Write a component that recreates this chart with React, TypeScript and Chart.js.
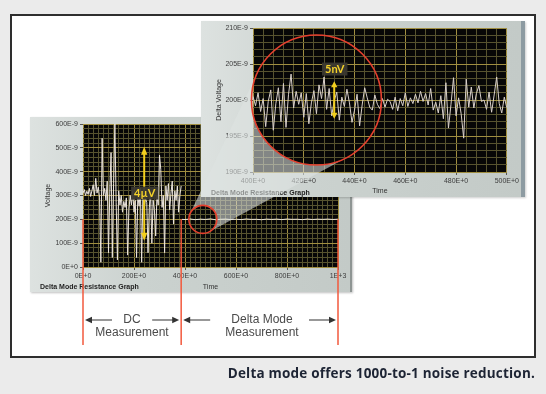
import React, { useEffect, useRef } from "react";
import { Chart, registerables } from "chart.js";
Chart.register(...registerables);

// ---------- DATA ----------
// DC measurement (overview graph), time units, voltage in E-9
const DC_TIME = [0,5,10,15,20,25,30,35,40,45,50,55,60,65,70,75,80,85,90,95,100,105,110,115,120,125,130,135,140,145,150,155,160,165,170,175,180,185,190,195,200,205,210,215,220,225,230,235,240,245,250,255,260,265,270,275,280,285,290,295,300,305,310,315,320,325,330,335,340,345,350,355,360,365,370,375,380,385];
const DC_VOLTAGE = [310,325,300,318,305,330,296,320,345,300,372,310,335,290,20,540,300,330,280,360,60,310,480,40,350,600,270,30,320,260,300,230,275,250,290,50,240,300,260,320,230,280,40,300,255,330,20,310,240,290,270,60,250,310,100,280,240,130,300,260,470,410,250,300,60,340,280,350,240,310,360,180,320,280,340,230,300,340];

// Delta mode measurement (overview graph)
const DELTA_TIME = [388,400,420,440,460,480,500,520,540,560,580,600,620,640,660,680,700,720,740,760,780,800,820,840,860,880,900,920,940,960,980,1000];
const DELTA_VOLTAGE = [200,199.1,201.4,198.6,200.8,199.5,201.9,198.2,200.3,201.1,199.0,200.6,198.9,201.5,199.7,200.2,198.4,201.0,199.6,200.9,198.8,201.3,199.9,200.4,198.7,201.2,199.3,200.7,199.8,201.0,199.4,200.5];

// Zoomed delta mode graph
const ZOOM_TIME = [400,401,402,403,404,405,406,407,408,409,410,411,412,413,414,415,416,417,418,419,420,421,422,423,424,425,426,427,428,429,430,431,432,433,434,435,436,437,438,439,440,441,442,443,444,445,446,447,448,449,450,451,452,453,454,455,456,457,458,459,460,461,462,463,464,465,466,467,468,469,470,471,472,473,474,475,476,477,478,479,480,481,482,483,484,485,486,487,488,489,490,491,492,493,494,495,496,497,498,499,500];
const ZOOM_VOLTAGE = [
  200.5,199.2,201.0,198.4,200.2,196.3,199.8,201.4,195.8,199.5,
  201.7,197.0,202.3,196.2,200.8,203.6,198.9,201.2,199.4,201.0,
  197.6,200.9,196.7,199.6,201.3,198.1,202.1,200.2,203.2,198.7,
  201.6,197.8,199.9,201.1,197.2,200.4,199.1,201.5,199.6,196.9,
  198.6,200.8,196.4,199.3,201.7,200.3,199.0,198.6,200.7,199.4,
  198.8,200.2,199.0,200.1,199.8,198.7,200.4,198.5,200.2,199.2,
  201.0,199.1,200.3,199.5,200.8,199.6,201.2,199.8,200.9,199.3,
  201.6,198.6,199.7,198.2,200.6,197.4,202.4,196.1,199.4,203.1,
  197.8,200.3,198.1,194.7,202.9,199.0,201.8,198.9,200.9,202.0,
  199.8,200.0,198.7,201.1,198.3,200.7,203.2,199.5,198.2,200.4,
  198.9];

// Tick labels
const SMALL_X_TICKS = [0,200,400,600,800,1000];
const SMALL_X_LABELS = ["0E+0","200E+0","400E+0","600E+0","800E+0","1E+3"];
const SMALL_Y_TICKS = [0,100,200,300,400,500,600];
const SMALL_Y_LABELS = ["0E+0","100E-9","200E-9","300E-9","400E-9","500E-9","600E-9"];
const BIG_X_TICKS = [400,420,440,460,480,500];
const BIG_X_LABELS = ["400E+0","420E+0","440E+0","460E+0","480E+0","500E+0"];
const BIG_Y_TICKS = [190,195,200,205,210];
const BIG_Y_LABELS = ["190E-9","195E-9","200E-9","205E-9","210E-9"];

// Annotation anchors (data space)
const DC_END_TIME = 385;
const ZOOM_CENTER_SMALL = { x: 470, y: 200 };
const ZOOM_CENTER_BIG = { x: 425, y: 200 };
const ARROW_4UV = { x: 240, y0: 110, y1: 505, labelX: 242, labelY: 310, text: "4µV" };
const ARROW_5NV = { x: 432, y0: 197.4, y1: 202.6, labelX: 432.2, labelY: 204.3, text: "5nV" };

// ---------- LAYOUT ----------
const SMALL = { left: 30, top: 117, w: 320, h: 175 };
const BIG = { left: 201, top: 21, w: 320, h: 176 };

const MAJOR = "#a08e40";
const MINOR = "#57532f";
const TICK_FONT = { size: 7, family: "'Liberation Sans', Arial, sans-serif" };

function labelFn(ticks: number[], labels: string[]) {
  return (v: any) => {
    const i = ticks.findIndex((t) => Math.abs(t - Number(v)) < 1e-6);
    return i >= 0 ? labels[i] : "";
  };
}
function isMajor(ticks: number[], v: number) {
  return ticks.some((t) => Math.abs(t - v) < 1e-6);
}

const plotBg = {
  id: "plotBg",
  beforeDraw(chart: any) {
    const { ctx, chartArea } = chart;
    ctx.save();
    ctx.fillStyle = "#070707";
    ctx.fillRect(chartArea.left, chartArea.top, chartArea.right - chartArea.left, chartArea.bottom - chartArea.top);
    ctx.restore();
  },
};

function axis(opts: any) {
  const { min, max, step, ticks, labels, width, height, title, titlePad, vertical } = opts;
  return {
    type: "linear",
    min,
    max,
    afterFit: (s: any) => {
      if (vertical) s.width = width;
      else s.height = height;
    },
    ticks: {
      stepSize: step,
      autoSkip: false,
      maxRotation: 0,
      minRotation: 0,
      padding: 2,
      color: "#3c3c3c",
      font: TICK_FONT,
      callback: labelFn(ticks, labels),
    },
    grid: {
      color: (c: any) => (c.tick && isMajor(ticks, c.tick.value) ? MAJOR : MINOR),
      tickColor: (c: any) => (c.tick && isMajor(ticks, c.tick.value) ? "#555" : "rgba(0,0,0,0)"),
      tickLength: 3,
      lineWidth: 1,
    },
    border: { display: false },
    title: {
      display: true,
      text: title,
      color: "#333",
      font: TICK_FONT,
      padding: titlePad,
    },
  };
}

function arrowHead(ctx: CanvasRenderingContext2D, x: number, y: number, dx: number, dy: number, len: number, half: number) {
  const n = Math.hypot(dx, dy);
  const ux = dx / n, uy = dy / n;
  ctx.beginPath();
  ctx.moveTo(x, y);
  ctx.lineTo(x - ux * len - uy * half, y - uy * len + ux * half);
  ctx.lineTo(x - ux * len + uy * half, y - uy * len - ux * half);
  ctx.closePath();
  ctx.fill();
}

function drawOverlay(cv: HTMLCanvasElement, small: any, big: any) {
  const ctx = cv.getContext("2d")!;
  ctx.clearRect(0, 0, cv.width, cv.height);
  const sx = (v: number) => SMALL.left + small.scales.x.getPixelForValue(v);
  const sy = (v: number) => SMALL.top + small.scales.y.getPixelForValue(v);
  const bx = (v: number) => BIG.left + big.scales.x.getPixelForValue(v);
  const by = (v: number) => BIG.top + big.scales.y.getPixelForValue(v);

  // zoom circles
  const c1x = sx(ZOOM_CENTER_SMALL.x), c1y = sy(ZOOM_CENTER_SMALL.y), r1 = 14;
  const c2x = bx(ZOOM_CENTER_BIG.x), c2y = by(ZOOM_CENTER_BIG.y), r2 = 65;

  // wedge (hull between circles)
  const dx = c2x - c1x, dy = c2y - c1y, D = Math.hypot(dx, dy);
  const th = Math.atan2(dy, dx);
  const al = Math.asin((r2 - r1) / D);
  const a1 = th - (Math.PI / 2 + al);
  const a2 = th + (Math.PI / 2 + al);
  ctx.save();
  ctx.beginPath();
  ctx.moveTo(c1x + r1 * Math.cos(a1), c1y + r1 * Math.sin(a1));
  ctx.lineTo(c2x + r2 * Math.cos(a1), c2y + r2 * Math.sin(a1));
  ctx.arc(c2x, c2y, r2, a1, a2, true);
  ctx.lineTo(c1x + r1 * Math.cos(a2), c1y + r1 * Math.sin(a2));
  ctx.arc(c1x, c1y, r1, a2, a1, true);
  ctx.closePath();
  ctx.fillStyle = "rgba(222,228,226,0.58)";
  ctx.fill();
  ctx.restore();

  ctx.strokeStyle = "#e5402e";
  ctx.lineWidth = 1.6;
  ctx.beginPath();
  ctx.arc(c2x, c2y, r2, 0, Math.PI * 2);
  ctx.stroke();
  ctx.beginPath();
  ctx.arc(c1x, c1y, r1, 0, Math.PI * 2);
  ctx.stroke();

  // red section lines
  const lines = [sx(0), sx(DC_END_TIME), sx(1000)];
  ctx.strokeStyle = "#f2583c";
  ctx.lineWidth = 1.5;
  lines.forEach((x) => {
    ctx.beginPath();
    ctx.moveTo(x, sy(200));
    ctx.lineTo(x, 345);
    ctx.stroke();
  });

  // black measurement arrows
  ctx.strokeStyle = "#333";
  ctx.fillStyle = "#333";
  ctx.lineWidth = 1.2;
  const ay = 320;
  for (let i = 0; i < 2; i++) {
    const L = lines[i] + 2, R = lines[i + 1] - 2;
    ctx.beginPath();
    ctx.moveTo(L + 4, ay);
    ctx.lineTo(L + 27, ay);
    ctx.moveTo(R - 27, ay);
    ctx.lineTo(R - 4, ay);
    ctx.stroke();
    arrowHead(ctx, L, ay, -1, 0, 7, 3.2);
    arrowHead(ctx, R, ay, 1, 0, 7, 3.2);
  }

  // yellow amplitude arrows
  const yellow = (x: number, yTop: number, yBot: number, head: number) => {
    ctx.strokeStyle = "#f2cf1e";
    ctx.fillStyle = "#f2cf1e";
    ctx.lineWidth = 2;
    ctx.beginPath();
    ctx.moveTo(x, yTop + head - 1);
    ctx.lineTo(x, yBot - head + 1);
    ctx.stroke();
    arrowHead(ctx, x, yTop, 0, -1, head, 3.2);
    arrowHead(ctx, x, yBot, 0, 1, head, 3.2);
  };
  yellow(sx(ARROW_4UV.x), sy(ARROW_4UV.y1), sy(ARROW_4UV.y0), 8);
  yellow(bx(ARROW_5NV.x), by(ARROW_5NV.y1), by(ARROW_5NV.y0), 6);

  const tag = (cx: number, cy: number, text: string, size: number) => {
    ctx.font = `bold ${size}px Lato, 'Open Sans', sans-serif`;
    const w = ctx.measureText(text).width + 6;
    const h = size + 2;
    ctx.fillStyle = "rgba(58,56,48,0.95)";
    ctx.fillRect(cx - w / 2, cy - h / 2, w, h);
    ctx.fillStyle = "#f4d22a";
    ctx.textAlign = "center";
    ctx.textBaseline = "middle";
    ctx.fillText(text, cx, cy + 0.5);
  };
  tag(sx(ARROW_4UV.labelX), sy(ARROW_4UV.labelY), ARROW_4UV.text, 11);
  tag(bx(ARROW_5NV.labelX), by(ARROW_5NV.labelY), ARROW_5NV.text, 11);
}

export default function App() {
  const smallRef = useRef<HTMLCanvasElement>(null);
  const bigRef = useRef<HTMLCanvasElement>(null);
  const overlayRef = useRef<HTMLCanvasElement>(null);

  useEffect(() => {
    const small = new Chart(smallRef.current!, {
      type: "line",
      data: {
        datasets: [
          {
            data: DC_TIME.map((t, i) => ({ x: t, y: DC_VOLTAGE[i] })),
            borderColor: "#ebe4dc",
            borderWidth: 1,
            pointRadius: 0,
            tension: 0,
          },
          {
            data: DELTA_TIME.map((t, i) => ({ x: t, y: DELTA_VOLTAGE[i] })),
            borderColor: "#e6e2dc",
            borderWidth: 1,
            pointRadius: 0,
            tension: 0,
          },
        ],
      },
      options: {
        animation: false,
        responsive: false,
        devicePixelRatio: 1,
        layout: { padding: { top: 7, right: 12, left: 0, bottom: 0 } },
        plugins: { legend: { display: false }, tooltip: { enabled: false } },
        scales: {
          x: axis({ min: 0, max: 1000, step: 20, ticks: SMALL_X_TICKS, labels: SMALL_X_LABELS, height: 25, title: "Time", titlePad: { top: 0, bottom: 1 } }),
          y: axis({ min: 0, max: 600, step: 20, ticks: SMALL_Y_TICKS, labels: SMALL_Y_LABELS, width: 53, title: "Voltage", titlePad: { top: 14, bottom: 0 }, vertical: true }),
        },
      } as any,
      plugins: [plotBg],
    } as any);

    const big = new Chart(bigRef.current!, {
      type: "line",
      data: {
        datasets: [
          {
            data: ZOOM_TIME.map((t, i) => ({ x: t, y: ZOOM_VOLTAGE[i] })),
            borderColor: "#d9d0ca",
            borderWidth: 1,
            pointRadius: 0,
            tension: 0,
          },
        ],
      },
      options: {
        animation: false,
        responsive: false,
        devicePixelRatio: 1,
        layout: { padding: { top: 7, right: 12, left: 0, bottom: 0 } },
        plugins: { legend: { display: false }, tooltip: { enabled: false } },
        scales: {
          x: axis({ min: 400, max: 500, step: 4, ticks: BIG_X_TICKS, labels: BIG_X_LABELS, height: 25, title: "Time", titlePad: { top: 0, bottom: 2 } }),
          y: axis({ min: 190, max: 210, step: 1, ticks: BIG_Y_TICKS, labels: BIG_Y_LABELS, width: 52, title: "Delta Voltage", titlePad: { top: 14, bottom: 0 }, vertical: true }),
        },
      } as any,
      plugins: [plotBg],
    } as any);

    drawOverlay(overlayRef.current!, small, big);
    return () => {
      small.destroy();
      big.destroy();
    };
  }, []);

  const panelBg = "linear-gradient(90deg, #dde2e0 0%, #cbd2cf 35%, #c3cac7 100%)";
  const graphTitle: React.CSSProperties = {
    position: "absolute",
    font: "bold 7px 'Liberation Sans', Arial, sans-serif",
    color: "#1e1e1e",
    lineHeight: "9px",
    whiteSpace: "nowrap",
  };
  const annot: React.CSSProperties = {
    position: "absolute",
    width: 130,
    textAlign: "center",
    font: "12px 'Liberation Sans', Arial, sans-serif",
    lineHeight: "13px",
    color: "#4a4a4a",
    top: 313,
    zIndex: 5,
  };

  return (
    <div style={{ position: "fixed", left: 0, top: 0, width: 546, height: 394, background: "#ebebeb", overflow: "hidden" }}>
      <div style={{ position: "absolute", left: 10, top: 14, width: 526, height: 344, boxSizing: "border-box", border: "2px solid #2e2e2e", background: "#fff" }} />

      {/* overview panel */}
      <div style={{ position: "absolute", left: SMALL.left, top: SMALL.top, width: SMALL.w, height: SMALL.h, background: panelBg, borderRight: "2px solid #8e9593", boxShadow: "1px 1px 2px rgba(0,0,0,0.25)", zIndex: 1 }}>
        <canvas ref={smallRef} width={SMALL.w} height={SMALL.h} style={{ display: "block" }} />
        <div style={{ ...graphTitle, left: 10, top: 165 }}>Delta Mode Resistance Graph</div>
      </div>

      {/* zoom panel */}
      <div style={{ position: "absolute", left: BIG.left, top: BIG.top, width: BIG.w, height: BIG.h, background: panelBg, borderRight: "4px solid #8d9ba2", boxShadow: "1px 1px 2px rgba(0,0,0,0.2)", zIndex: 2 }}>
        <canvas ref={bigRef} width={BIG.w} height={BIG.h} style={{ display: "block" }} />
        <div style={{ ...graphTitle, left: 10, top: 167 }}>Delta Mode Resistance Graph</div>
      </div>

      <canvas ref={overlayRef} width={546} height={394} style={{ position: "absolute", left: 0, top: 0, zIndex: 3, pointerEvents: "none" }} />

      <div style={{ ...annot, left: 132 - 65 }}>DC<br />Measurement</div>
      <div style={{ ...annot, left: 262 - 65 }}>Delta Mode<br />Measurement</div>

      <div style={{ position: "absolute", left: 0, top: 364, width: 535, textAlign: "right", font: "bold 13.5px 'Open Sans', 'Noto Sans', sans-serif", letterSpacing: "0.2px", lineHeight: "18px", color: "#1d2434", zIndex: 5, whiteSpace: "nowrap" }}>
        Delta mode offers 1000-to-1 noise reduction.
      </div>
    </div>
  );
}
